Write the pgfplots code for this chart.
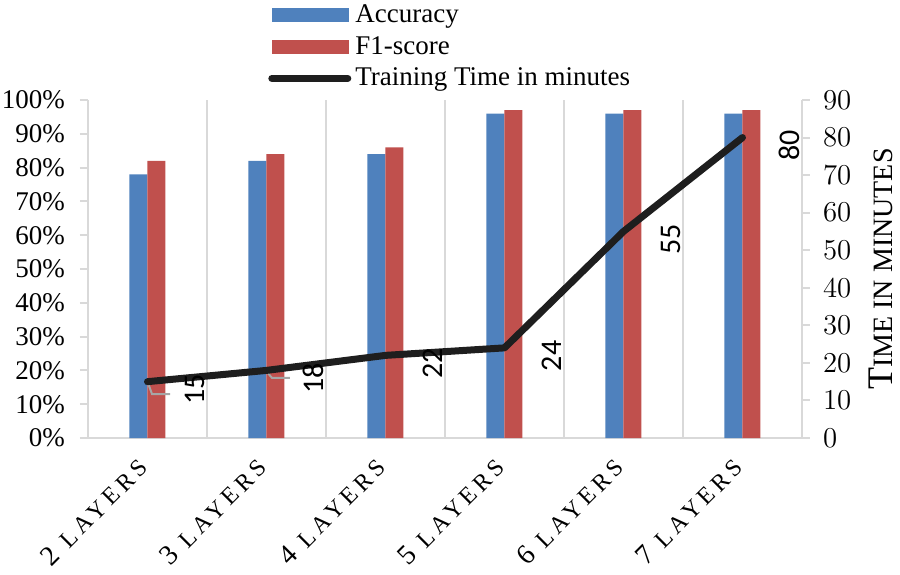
\documentclass[border=0pt]{standalone}
\usepackage{fontspec}
\setmainfont{Liberation Serif}
\newfontfamily\lblfont{Carlito}
\newfontfamily\spacedfont[LetterSpace=18]{Liberation Serif}
\usepackage{pgfplots}
\pgfplotsset{compat=1.18}

\definecolor{accblue}{HTML}{4F81BD}
\definecolor{f1red}{HTML}{C0504D}
\definecolor{gridgray}{HTML}{D9D9D9}
\definecolor{leadgray}{HTML}{A6A6A6}
\definecolor{timeblack}{HTML}{1E1E1E}

\newcommand{\lay}[1]{\fontsize{14}{16}\selectfont #1\hspace{0.4em}{\spacedfont\fontsize{12}{14}\selectfont LAYERS}}

% layers, accuracy (%), f1-score (%), training time (min)
\pgfplotstableread{
x acc f1 time
0 78 82 15
1 82 84 18
2 84 86 22
3 96 97 24
4 96 97 55
5 96 97 80
}\datatab

\begin{document}
\begin{tikzpicture}
\useasboundingbox (-44pt,-68pt) rectangle (406pt,219pt);

\begin{axis}[
    scale only axis, width=357pt, height=169pt,
    xmin=-0.5, xmax=5.5, ymin=0, ymax=100,
    axis x line=bottom, axis y line=left,
    axis line style={-, draw=gridgray, line width=1pt},
    xtick={0,...,5},
    xticklabels={\lay{2},\lay{3},\lay{4},\lay{5},\lay{6},\lay{7}},
    xtick style={draw=none},
    xticklabel style={yshift=-6pt, rotate=45, anchor=east},
    minor xtick={0.5,1.5,2.5,3.5,4.5},
    minor tick length=0pt,
    xminorgrids=true,
    minor grid style={draw=gridgray, line width=1pt},
    ytick={0,10,...,100},
    yticklabels={0\%,10\%,20\%,30\%,40\%,50\%,60\%,70\%,80\%,90\%,100\%},
    ytick style={draw=gridgray, line width=1pt},
    yticklabel style={font=\fontsize{13.5}{15}\selectfont, xshift=-4pt},
    tick align=outside, major tick length=4pt,
    ybar=0pt, bar width=9pt,
    legend style={at={(axis description cs:0.252,1.296)}, anchor=north west,
        draw=none, fill=none, inner sep=0pt, row sep=1.5pt,
        font=\fontsize{13.5}{15}\selectfont},
    legend cell align=left,
]
\addplot[fill=accblue, draw=none,
    legend image code/.code={\fill[accblue] (0pt,-3.5pt) rectangle (38.5pt,3.5pt);}]
    table[x=x, y=acc]{\datatab};
\addlegendentry{Accuracy}
\addplot[fill=f1red, draw=none,
    legend image code/.code={\fill[f1red] (0pt,-3.5pt) rectangle (38.5pt,3.5pt);}]
    table[x=x, y=f1]{\datatab};
\addlegendentry{F1-score}
\addlegendimage{legend image code/.code={\draw[timeblack, line width=3.5pt, line cap=round] (0pt,0pt) -- (38pt,0pt);}}
\addlegendentry{Training Time in minutes}
\end{axis}

\begin{axis}[
    scale only axis, width=357pt, height=169pt,
    xmin=-0.5, xmax=5.5, ymin=0, ymax=90,
    axis x line=none, axis y line=right,
    axis line style={-, draw=gridgray, line width=1pt},
    ytick={0,10,...,90},
    ytick style={draw=gridgray, line width=1pt},
    yticklabel style={font=\fontsize{13.5}{15}\selectfont, xshift=3pt},
    tick align=outside, major tick length=4pt,
    ylabel={{\fontsize{18}{20}\selectfont T}{\fontsize{14}{16}\selectfont IME IN MINUTES}},
    ylabel shift=2pt,
]
% leader lines of the two lowest data labels
\draw[leadgray, line width=1pt] (axis cs:0.0,15) -- (axis cs:0.038,11.7) -- (axis cs:0.19,11.7);
\draw[leadgray, line width=1pt] (axis cs:1.0,17.7) -- (axis cs:1.046,16.0) -- (axis cs:1.197,16.0);
\addplot[timeblack, line width=3.5pt, line cap=round, line join=round, mark=none,
    nodes near coords={\pgfmathprintnumber[assume math mode=true]{\pgfplotspointmeta}},
    nodes near coords style={font=\lblfont\fontsize{15}{17}\selectfont, black,
        anchor=center, xshift=23.5pt, yshift=-4pt, rotate=90}]
    table[x=x, y=time]{\datatab};
\end{axis}
\end{tikzpicture}
\end{document}
